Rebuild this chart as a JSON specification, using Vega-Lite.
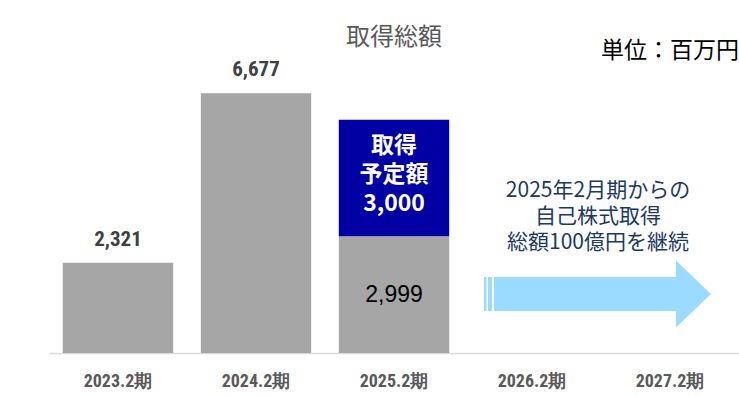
{
  "$schema": "https://vega.github.io/schema/vega-lite/v6.json",
  "width": 690,
  "height": 350,
  "autosize": "none",
  "padding": {"left": 49, "top": 3, "right": 0, "bottom": 44},
  "background": "white",
  "config": {"view": {"stroke": null}, "font": "Noto Sans CJK JP"},
  "title": {"text": "単位：百万円", "anchor": "end", "orient": "top", "frame": "group", "fontSize": 23, "fontWeight": "normal", "color": "#000000", "font": "Noto Sans CJK JP", "baseline": "middle", "offset": -71},
  "datasets": {
    "bars": [
      {"period": "2023.2期", "value": 2321, "kind": "実績", "seq": 1},
      {"period": "2024.2期", "value": 6677, "kind": "実績", "seq": 1},
      {"period": "2025.2期", "value": 2999, "kind": "実績", "seq": 1},
      {"period": "2025.2期", "value": 3000, "kind": "予定", "seq": 2}
    ],
    "tops": [
      {"period": "2023.2期", "value": 2321},
      {"period": "2024.2期", "value": 6677}
    ],
    "inner": [
      {"period": "2025.2期", "pos": 1500, "label": "2,999"}
    ],
    "planned": [
      {"period": "2025.2期", "pos": 5330, "lines": ["取得", "予定額", "3,000"]}
    ],
    "arrow": [
      {"period": "2026.2期", "pos": 1517}
    ],
    "note": [
      {"period": "2026.2期", "pos": 4153, "lines": ["2025年2月期からの", "自己株式取得", "総額100億円を継続"]}
    ],
    "heading": [
      {"period": "2025.2期", "pos": 8100, "label": "取得総額"}
    ]
  },
  "encoding": {
    "x": {
      "field": "period",
      "type": "nominal",
      "sort": null,
      "scale": {"domain": ["2023.2期", "2024.2期", "2025.2期", "2026.2期", "2027.2期"], "paddingInner": 0.2, "paddingOuter": 0.1},
      "axis": {
        "title": null,
        "labelAngle": 0,
        "ticks": false,
        "tickSize": 0,
        "grid": false,
        "domainColor": "#D9D9D9",
        "domainWidth": 1.5,
        "labelFont": "Roboto Condensed, DejaVu Sans Condensed, Roboto, sans-serif",
        "labelFontWeight": "bold",
        "labelFontSize": 18,
        "labelColor": "#595959",
        "labelPadding": 28,
        "labelBaseline": "middle"
      }
    }
  },
  "layer": [
    {
      "data": {"name": "bars"},
      "mark": {"type": "bar"},
      "encoding": {
        "y": {"field": "value", "type": "quantitative", "stack": "zero", "scale": {"domain": [0, 9000]}, "axis": null},
        "color": {"field": "kind", "type": "nominal", "scale": {"domain": ["実績", "予定"], "range": ["#A6A6A6", "#0000A3"]}, "legend": null},
        "order": {"field": "seq", "type": "quantitative"}
      }
    },
    {
      "data": {"name": "tops"},
      "mark": {"type": "text", "baseline": "alphabetic", "dy": -17, "font": "Roboto Condensed, DejaVu Sans Condensed, Roboto, sans-serif", "fontWeight": "bold", "fontSize": 21, "color": "#404040"},
      "encoding": {
        "y": {"field": "value", "type": "quantitative"},
        "text": {"field": "value", "type": "quantitative", "format": ","}
      }
    },
    {
      "data": {"name": "inner"},
      "mark": {"type": "text", "baseline": "middle", "font": "Liberation Sans", "fontSize": 23, "color": "#000000"},
      "encoding": {
        "y": {"field": "pos", "type": "quantitative"},
        "text": {"field": "label", "type": "nominal"}
      }
    },
    {
      "data": {"name": "planned"},
      "mark": {"type": "text", "baseline": "middle", "fontWeight": "bold", "fontSize": 23, "lineHeight": 29, "color": "#FFFFFF", "font": "Noto Sans CJK JP"},
      "encoding": {
        "y": {"field": "pos", "type": "quantitative"},
        "text": {"field": "lines", "type": "nominal"}
      }
    },
    {
      "data": {"name": "arrow"},
      "mark": {
        "type": "point",
        "filled": true,
        "opacity": 1,
        "strokeWidth": 0,
        "size": 40000,
        "color": "#9BDBFF",
        "shape": "M -0.48 -0.17 L -0.455 -0.17 L -0.455 0.17 L -0.48 0.17 Z M -0.44 -0.17 L -0.40 -0.17 L -0.40 0.17 L -0.44 0.17 Z M -0.38 -0.17 L 1.44 -0.17 L 1.44 -0.335 L 1.79 0 L 1.44 0.335 L 1.44 0.17 L -0.38 0.17 Z"
      },
      "encoding": {
        "y": {"field": "pos", "type": "quantitative"}
      }
    },
    {
      "data": {"name": "note"},
      "mark": {"type": "text", "baseline": "middle", "dx": 66, "fontSize": 21, "lineHeight": 26, "color": "#203864", "font": "Noto Sans CJK JP"},
      "encoding": {
        "y": {"field": "pos", "type": "quantitative"},
        "text": {"field": "lines", "type": "nominal"}
      }
    },
    {
      "data": {"name": "heading"},
      "mark": {"type": "text", "baseline": "middle", "fontSize": 24, "color": "#595959", "font": "Noto Sans CJK JP"},
      "encoding": {
        "y": {"field": "pos", "type": "quantitative"},
        "text": {"field": "label", "type": "nominal"}
      }
    }
  ]
}
